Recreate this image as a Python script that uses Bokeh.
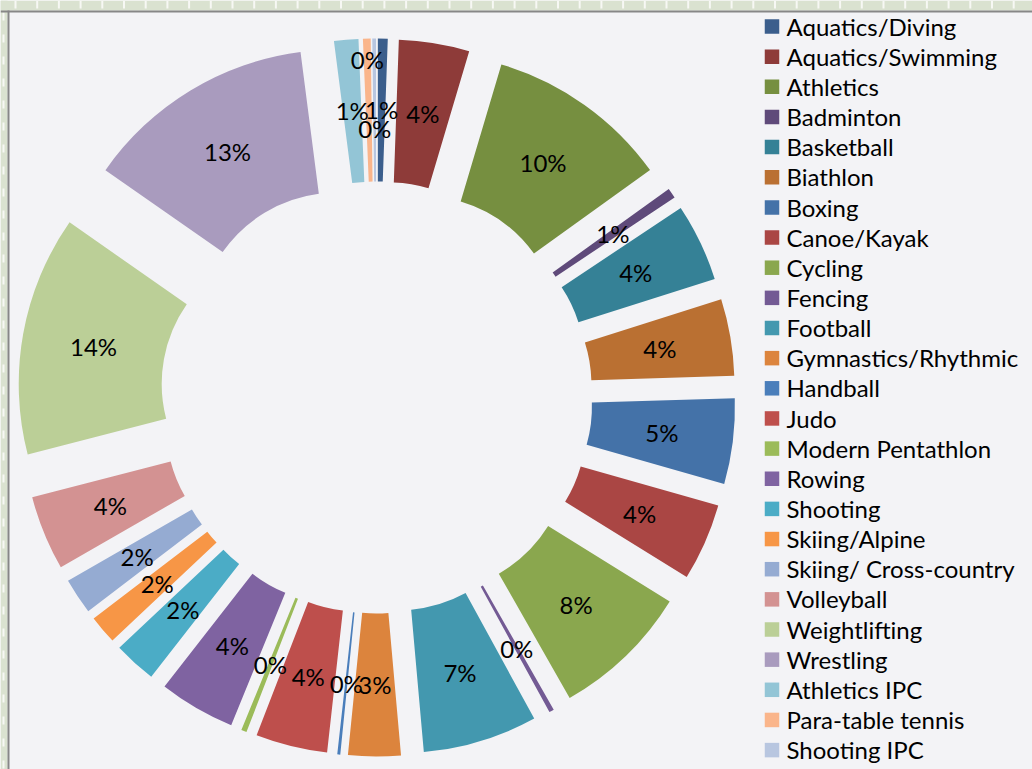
import numpy as np
from bokeh.plotting import figure
from bokeh.models import ColumnDataSource, Range1d
from bokeh.core.properties import value
from bokeh.embed import file_html
from bokeh.resources import INLINE

# ---- data (shares, in % of total) ----
sports = ["Aquatics/Diving", "Aquatics/Swimming", "Athletics", "Badminton", "Basketball",
          "Biathlon", "Boxing", "Canoe/Kayak", "Cycling", "Fencing", "Football",
          "Gymnastics/Rhythmic", "Handball", "Judo", "Modern Pentathlon", "Rowing",
          "Shooting", "Skiing/Alpine", "Skiing/ Cross-country", "Volleyball",
          "Weightlifting", "Wrestling", "Athletics IPC", "Para-table tennis", "Shooting IPC"]
share_pct = [0.56, 4.03, 10.47, 0.58, 4.45,
             4.39, 4.89, 4.42, 7.92, 0.28, 6.55,
             3.00, 0.17, 4.10, 0.31, 4.36,
             2.44, 1.64, 2.06, 4.28,
             13.72, 13.24, 1.39, 0.44, 0.21]
colors = ["#3B5E8C", "#8E3B39", "#768F40", "#5F4A7A", "#358196",
          "#BA7032", "#4472A8", "#AA4644", "#8AA74E", "#735A94", "#4398AF",
          "#DC843D", "#4A7EBB", "#BE4F4C", "#9BBB59", "#7F63A1",
          "#4BACC6", "#F79646", "#95ABD2", "#D39292",
          "#BBCF97", "#A99BBE", "#93C5D6", "#FAB58B", "#B8C6E0"]

# ---- layout constants ----
W, H = 1032, 769
BG = "#F3F3F6"
GREEN = "#DAE2D0"
GREY = "#878787"
FONT = "Lato"
FS = 24
CX, CY = 376, 372          # donut centre (canvas px, y up)
R_OUT, R_IN, EXPLODE = 282, 139, 77
label_shift = {"Para-table tennis": 50, "Shooting IPC": -19}
TEXT_DY = 0.72 * FS / 2 - 9   # baseline offset below the visual centre of a text

p = figure(width=W, height=H, x_range=Range1d(0, W), y_range=Range1d(0, H),
           output_backend="svg", toolbar_location=None,
           x_axis_location=None, y_axis_location=None, min_border=0,
           background_fill_color=BG, border_fill_color=BG, outline_line_color=None)
p.grid.visible = False

# outer frame: green dashed strip + grey border line of the chart area
p.quad(left=0, right=W, bottom=H - 10, top=H, fill_color=GREEN, line_color=None)
p.quad(left=0, right=7, bottom=0, top=H, fill_color=GREEN, line_color=None)
tx = np.arange(15, W, 21.7)
p.rect(x=tx, y=np.full(len(tx), H - 4), width=2, height=8, fill_color="#F7F8F4", line_color=None)
p.line(x=[3, 3], y=[H - 12, 0], line_color="#F7F8F4", line_width=2, line_dash="8 14")
p.quad(left=0, right=W, bottom=H - 12, top=H - 10, fill_color=GREY, line_color=None)
p.quad(left=7, right=9, bottom=0, top=H - 10, fill_color=GREY, line_color=None)

# ---- donut ----
vals = np.array(share_pct, dtype=float)
frac = vals / vals.sum()
cum = np.concatenate([[0.0], np.cumsum(frac)]) * 2 * np.pi   # clockwise from 12 o'clock
b0, b1 = cum[:-1], cum[1:]
mid = (b0 + b1) / 2

src = ColumnDataSource(dict(
    x=CX + EXPLODE * np.sin(mid),
    y=CY + EXPLODE * np.cos(mid),
    start=np.pi / 2 - b1,
    end=np.pi / 2 - b0,
    color=colors,
))
p.annular_wedge(x="x", y="y", inner_radius=R_IN, outer_radius=R_OUT,
                start_angle="start", end_angle="end", direction="anticlock",
                fill_color="color", line_color=None, source=src)

lr = np.array([EXPLODE + (R_IN + R_OUT) / 2 + label_shift.get(s, 0) for s in sports])
lab = ColumnDataSource(dict(
    x=CX + lr * np.sin(mid),
    y=CY + lr * np.cos(mid) - TEXT_DY,
    t=[f"{round(f * 100)}%" for f in frac],
))
p.text(x="x", y="y", text="t", source=lab, text_align="center", text_baseline="alphabetic",
       text_font=value(FONT), text_font_size=f"{FS}px", text_color="#000000")

# ---- legend ----
n = len(sports)
idx = np.arange(n)
leg_y = H - (26 + 30.15 * idx)
leg = ColumnDataSource(dict(x=np.full(n, 771.5), tx=np.full(n, 786.0), y=leg_y,
                            ty=leg_y - TEXT_DY, name=sports, color=colors))
p.rect(x="x", y="y", width=14.5, height=14.5, fill_color="color", line_color=None, source=leg)
p.text(x="tx", y="ty", text="name", source=leg, text_align="left", text_baseline="alphabetic",
       text_font=value(FONT), text_font_size=f"{FS}px", text_color="#000000")

open("out.html", "w").write(file_html(p, INLINE))
